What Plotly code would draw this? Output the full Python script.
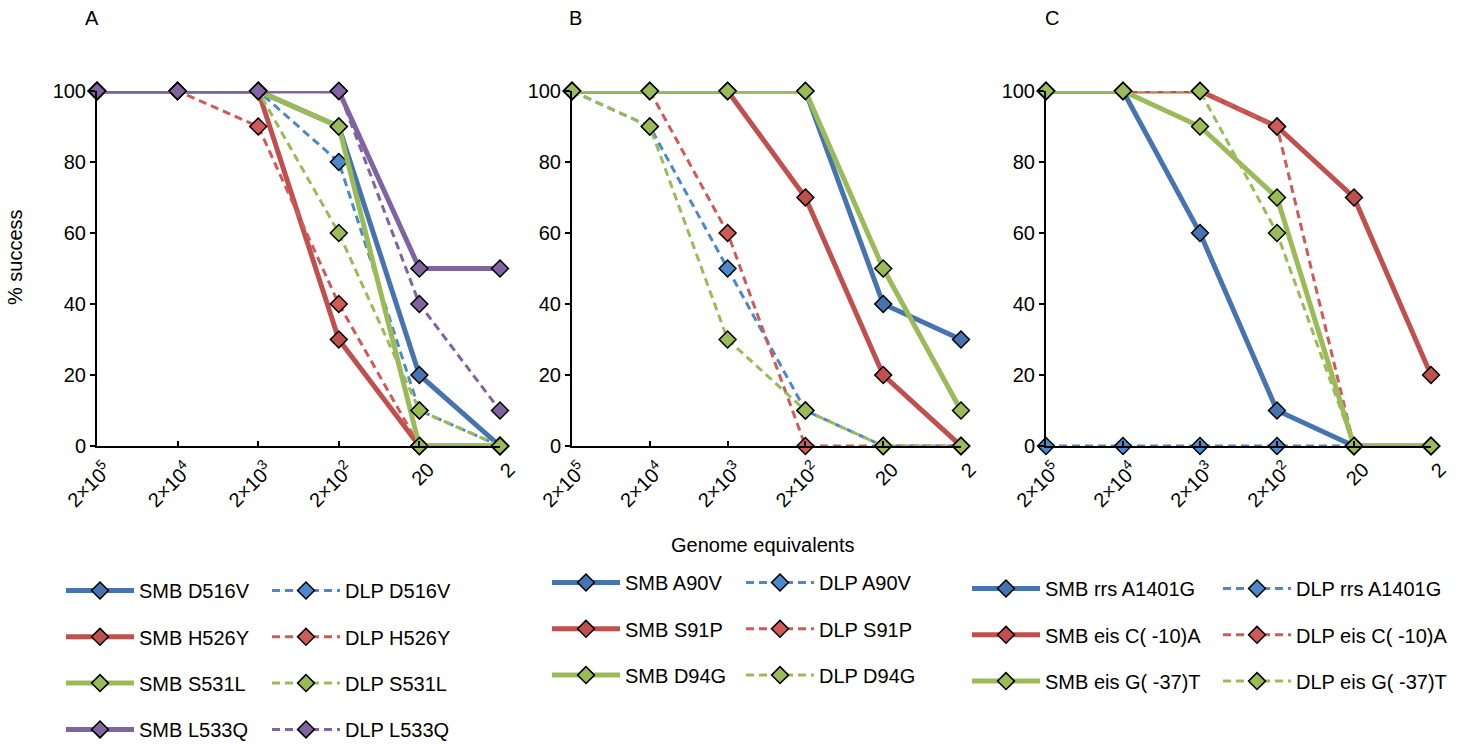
import plotly.graph_objects as go

# Genome-equivalent dilution steps (x categories, highest to lowest)
categories = ["2×10<sup>5</sup>", "2×10<sup>4</sup>", "2×10<sup>3</sup>",
              "2×10<sup>2</sup>", "20", "2"]

# Panel A: rpoB mutations (% success)
a_labels = ["D516V", "H526Y", "S531L", "L533Q"]
a_smb = [
    [100, 100, 100, 90, 20, 0],
    [100, 100, 100, 30, 0, 0],
    [100, 100, 100, 90, 0, 0],
    [100, 100, 100, 100, 50, 50],
]
a_dlp = [
    [100, 100, 100, 80, 10, 0],
    [100, 100, 90, 40, 0, 0],
    [100, 100, 100, 60, 10, 0],
    [100, 100, 100, 100, 40, 10],
]

# Panel B: gyrA mutations (% success)
b_labels = ["A90V", "S91P", "D94G"]
b_smb = [
    [100, 100, 100, 100, 40, 30],
    [100, 100, 100, 70, 20, 0],
    [100, 100, 100, 100, 50, 10],
]
b_dlp = [
    [100, 90, 50, 10, 0, 0],
    [100, 100, 60, 0, 0, 0],
    [100, 90, 30, 10, 0, 0],
]

# Panel C: rrs / eis mutations (% success)
c_labels = ["rrs A1401G", "eis C( -10)A", "eis G( -37)T"]
c_smb = [
    [100, 100, 60, 10, 0, 0],
    [100, 100, 100, 90, 70, 20],
    [100, 100, 90, 70, 0, 0],
]
c_dlp = [
    [0, 0, 0, 0, 0, 0],
    [100, 100, 100, 90, 0, 0],
    [100, 100, 100, 60, 0, 0],
]

panel_letters = ["A", "B", "C"]
y_ticks = [0, 20, 40, 60, 80, 100]

solid_colors = ["#4674B0", "#C0504D", "#9BBB59", "#8064A2"]
dash_colors = ["#4C89CB", "#CF5A57", "#9BBB59", "#8064A2"]

W, H = 1465, 744
FONT = "Liberation Sans, Arial, sans-serif"


def px_x(v):
    return v / W


def px_y(v):
    return 1 - v / H


# plot-area pixel boxes (left, right) per panel, shared top/bottom
x_boxes = [(97, 500), (572, 961), (1046, 1431)]
y_top, y_bottom = 91, 446

fig = go.Figure()

panels = [
    (a_labels, a_smb, a_dlp),
    (b_labels, b_smb, b_dlp),
    (c_labels, c_smb, c_dlp),
]

for p, (labels, smb, dlp) in enumerate(panels):
    xa = "x" if p == 0 else f"x{p + 1}"
    ya = "y" if p == 0 else f"y{p + 1}"
    leg_smb = "legend" if p == 0 else f"legend{2 * p + 1}"
    leg_dlp = f"legend{2 * p + 2}"
    for i, lab in enumerate(labels):
        fig.add_trace(go.Scatter(
            x=categories, y=smb[i], xaxis=xa, yaxis=ya,
            name=f"SMB {lab}", legend=leg_smb, legendgroup=f"smb{p}{i}",
            mode="lines+markers", cliponaxis=False,
            line=dict(color=solid_colors[i], width=5),
            marker=dict(symbol="diamond", size=13, color=solid_colors[i],
                        line=dict(color="black", width=1.5)),
        ))
        fig.add_trace(go.Scatter(
            x=categories, y=dlp[i], xaxis=xa, yaxis=ya,
            name=f"DLP {lab}", legend=leg_dlp, legendgroup=f"dlp{p}{i}",
            mode="lines+markers", cliponaxis=False,
            line=dict(color=dash_colors[i], width=3, dash="8px,5px"),
            marker=dict(symbol="diamond", size=13, color=dash_colors[i],
                        line=dict(color="black", width=1.5)),
        ))

axis_common = dict(showgrid=False, zeroline=False, showline=True,
                   linecolor="black", linewidth=2, automargin=False,
                   tickfont=dict(family=FONT, size=20, color="black"))

layout = dict(
    width=W, height=H,
    margin=dict(l=0, r=0, t=0, b=0, autoexpand=False),
    paper_bgcolor="white", plot_bgcolor="white",
    font=dict(family=FONT, size=20, color="black"),
    showlegend=True,
)

for p, (xl, xr) in enumerate(x_boxes):
    sfx = "" if p == 0 else str(p + 1)
    layout[f"xaxis{sfx}"] = dict(
        axis_common, domain=[px_x(xl), px_x(xr)], anchor=f"y{sfx}",
        type="category", range=[0, 5], tickangle=-45,
        ticks="inside", ticklen=5, tickcolor="black", tickwidth=1.5,
        ticklabelshift=9, ticklabelstandoff=2,
    )
    layout[f"yaxis{sfx}"] = dict(
        axis_common, domain=[px_y(y_bottom), px_y(y_top)], anchor=f"x{sfx}",
        range=[0, 100], tickvals=y_ticks,
        ticks="outside", ticklen=5, tickcolor="black", tickwidth=1.5,
    )

# two legend columns per panel: (line start x, first row y)
legend_pos = [
    (66, 591), (272, 591),
    (552, 583), (746, 583),
    (972, 589), (1223, 589),
]
for k, (lx, ly) in enumerate(legend_pos):
    key = "legend" if k == 0 else f"legend{k + 1}"
    layout[key] = dict(
        x=px_x(lx - 5), y=px_y(ly - 20), xanchor="left", yanchor="top",
        orientation="v", traceorder="grouped", tracegroupgap=17.3,
        itemwidth=68, bgcolor="rgba(0,0,0,0)", borderwidth=0,
        font=dict(family=FONT, size=20, color="black"),
    )

annotations = []
for p, letter in enumerate(panel_letters):
    annotations.append(dict(
        text=letter, x=px_x([92, 575, 1052][p]), y=px_y(18),
        xref="paper", yref="paper", showarrow=False,
        xanchor="center", yanchor="middle",
        font=dict(family=FONT, size=20, color="black"),
    ))
annotations.append(dict(
    text="% success", x=px_x(15), y=px_y(257), xref="paper", yref="paper",
    showarrow=False, textangle=-90, xanchor="center", yanchor="middle",
    font=dict(family=FONT, size=20, color="black"),
))
annotations.append(dict(
    text="Genome equivalents", x=px_x(763), y=px_y(545), xref="paper",
    yref="paper", showarrow=False, xanchor="center", yanchor="middle",
    font=dict(family=FONT, size=20, color="black"),
))
layout["annotations"] = annotations

fig.update_layout(**layout)
fig.write_html("out.html")
